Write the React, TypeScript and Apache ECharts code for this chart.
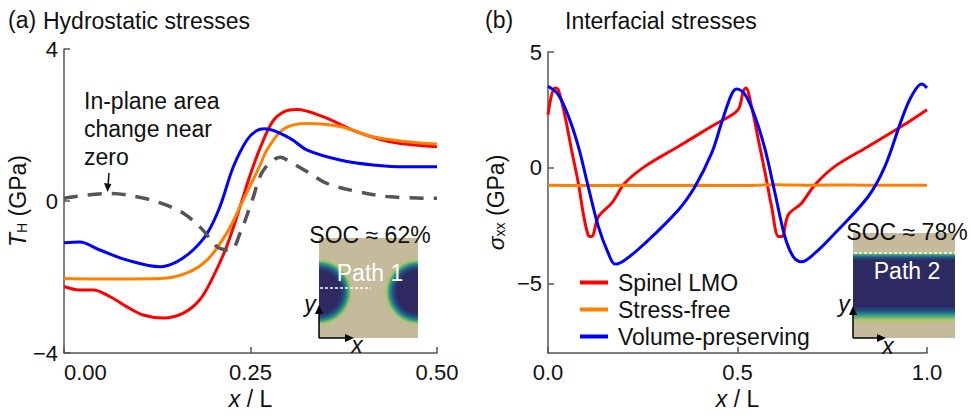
import React, { useEffect, useRef } from "react";
import * as echarts from "echarts";

// ---------- Data ----------
// Panel (a): hydrostatic stresses along Path 1, x / L in [0, 0.5]
const aSpinel: [number, number][] = [
  [0, -2.25], [0.021, -2.34], [0.039, -2.34], [0.062, -2.52], [0.084, -2.78],
  [0.106, -3.0], [0.133, -3.08], [0.16, -2.95], [0.182, -2.6], [0.2, -1.99],
  [0.218, -1.2], [0.236, -0.15], [0.249, 0.65], [0.263, 1.4], [0.28, 2.1],
  [0.296, 2.36], [0.312, 2.41], [0.347, 2.22], [0.393, 1.82], [0.437, 1.56], [0.5, 1.43],
];
const aStressFree: [number, number][] = [
  [0, -2.04], [0.039, -2.05], [0.084, -2.05], [0.129, -2.04], [0.165, -1.89],
  [0.192, -1.55], [0.218, -0.85], [0.236, -0.15], [0.249, 0.38], [0.263, 0.95],
  [0.272, 1.34], [0.294, 1.89], [0.326, 2.04], [0.37, 1.96], [0.414, 1.69],
  [0.46, 1.56], [0.5, 1.5],
];
const aVolume: [number, number][] = [
  [0, -1.1], [0.021, -1.08], [0.048, -1.29], [0.084, -1.55], [0.129, -1.73],
  [0.151, -1.6], [0.173, -1.29], [0.192, -0.85], [0.209, -0.15], [0.227, 0.9],
  [0.245, 1.6], [0.258, 1.85], [0.269, 1.9], [0.303, 1.65], [0.326, 1.34],
  [0.37, 1.08], [0.414, 0.95], [0.46, 0.9], [0.5, 0.9],
];
const aInPlane: [number, number][] = [
  [0, 0.07], [0.062, 0.2], [0.106, 0.08], [0.129, -0.05], [0.16, -0.32],
  [0.186, -0.76], [0.205, -1.2], [0.223, -1.3], [0.236, -0.85], [0.252, 0.0],
  [0.267, 0.8], [0.29, 1.15], [0.303, 1.03], [0.326, 0.77], [0.353, 0.46],
  [0.393, 0.25], [0.437, 0.11], [0.5, 0.07],
];

// Panel (b): interfacial stresses along Path 2, x / L in [0, 1]
const bSpinel: [number, number][] = [
  [0, 2.29], [0.018, 3.45], [0.027, 3.38], [0.045, 2.22], [0.062, 0.78],
  [0.08, -0.66], [0.093, -1.96], [0.106, -2.9], [0.115, -2.97], [0.133, -2.11],
  [0.168, -1.53], [0.203, -0.66], [0.256, 0.06], [0.344, 0.92], [0.432, 1.79],
  [0.493, 2.37], [0.505, 2.6], [0.515, 3.3], [0.522, 3.45], [0.537, 2.65],
  [0.555, 1.21], [0.573, -0.23], [0.59, -1.68], [0.608, -2.97], [0.617, -2.97],
  [0.634, -2.03], [0.669, -1.53], [0.704, -0.74], [0.757, 0.06], [0.845, 0.92],
  [0.933, 1.79], [1.0, 2.51],
];
const bStressFree: [number, number][] = [
  [0, -0.76], [0.1, -0.77], [0.2, -0.76], [0.3, -0.77], [0.4, -0.76],
  [0.5, -0.77], [0.6, -0.73], [0.7, -0.75], [0.8, -0.74], [0.9, -0.76], [1.0, -0.76],
];
const bVolume: [number, number][] = [
  [0, 3.52], [0.027, 3.16], [0.054, 2.22], [0.08, 0.92], [0.106, -0.81],
  [0.133, -2.54], [0.159, -3.69], [0.177, -4.16], [0.203, -3.98], [0.256, -3.26],
  [0.344, -1.82], [0.388, -0.81], [0.432, 0.64], [0.458, 1.94], [0.484, 3.16],
  [0.498, 3.4], [0.52, 3.16], [0.546, 2.22], [0.573, 0.78], [0.599, -1.1],
  [0.625, -2.97], [0.647, -3.84], [0.669, -4.06], [0.704, -3.69], [0.757, -2.83],
  [0.845, -1.24], [0.889, 0.06], [0.933, 2.08], [0.959, 3.09], [0.986, 3.62], [1.0, 3.45],
];

const seriesNames = ["Spinel LMO", "Stress-free", "Volume-preserving"];
const seriesColors = ["#ff0000", "#ff8000", "#0000ff"];
const aTicksY = [-4, 0, 4];
const bTicksY = [-5, 0, 5];

const FONT = "Liberation Sans, Arial, Helvetica, sans-serif";

const minusFmt = (v: number) => (v < 0 ? "\u2212" + Math.abs(v) : String(v));

export default function App() {
  const ref = useRef<HTMLDivElement>(null);
  useEffect(() => {
    if (!ref.current) return;
    const chart = echarts.init(ref.current, null, { renderer: "svg" });

    const axisLineX = { onZero: false, lineStyle: { color: "#555", width: 1.5 } };
    const axisLineY = { show: true, onZero: false, lineStyle: { color: "#555", width: 1.5 } };
    const axisTick = { show: true, inside: true, length: 6, lineStyle: { color: "#555", width: 1.5 } };
    const labelStyle = { color: "#111", fontSize: 22, fontFamily: FONT };

    const richName = {
      i: { fontStyle: "italic", fontSize: 23, fontFamily: FONT, color: "#111" },
      n: { fontSize: 23, fontFamily: FONT, color: "#111" },
      s: { fontSize: 14, fontFamily: FONT, color: "#111", padding: [9, 0, 0, 0] },
    };

    const line = (name: string, data: [number, number][], color: string, idx: number) => ({
      type: "line",
      name,
      data,
      xAxisIndex: idx,
      yAxisIndex: idx,
      showSymbol: false,
      smooth: 0.35,
      lineStyle: { color, width: 3 },
      itemStyle: { color },
    });

    const white = "#ffffff";
    const txt = (text: string, x: number, y: number, opts: any = {}) => ({
      type: "text",
      x,
      y,
      z: 100,
      style: {
        text,
        fill: opts.fill || "#111",
        fontSize: opts.fontSize || 23,
        fontFamily: FONT,
        fontStyle: opts.italic ? "italic" : "normal",
        align: opts.align || "left",
        textAlign: opts.align || "left",
        verticalAlign: "middle",
        textVerticalAlign: "middle",
      },
    });
    const arrowHeadUp = (x: number, y: number) => ({
      type: "polygon", z: 100,
      shape: { points: [[x, y], [x - 4, y + 9], [x + 4, y + 9]] },
      style: { fill: "#000" },
    });
    const arrowHeadRight = (x: number, y: number) => ({
      type: "polygon", z: 100,
      shape: { points: [[x, y], [x - 9, y - 4], [x - 9, y + 4]] },
      style: { fill: "#000" },
    });
    const seg = (x1: number, y1: number, x2: number, y2: number, stroke = "#000", width = 1.5, dash?: number[]) => ({
      type: "line", z: 100,
      shape: { x1, y1, x2, y2 },
      style: { stroke, lineWidth: width, lineDash: dash },
    });

    const beige = "#c5ba9c";
    const navy = "#2d2a62";
    const radialStops = [
      { offset: 0, color: navy },
      { offset: 0.62, color: navy },
      { offset: 0.74, color: "#244f86" },
      { offset: 0.84, color: "#2a9a80" },
      { offset: 0.93, color: "#a6c86e" },
      { offset: 1, color: beige },
    ];

    const graphic: any[] = [
      // titles
      txt("(a)", 8, 20),
      txt("Hydrostatic stresses", 43, 21),
      txt("(b)", 485, 20),
      txt("Interfacial stresses", 565, 21),
      // annotation (a)
      txt("In-plane area", 84, 101),
      txt("change near", 84, 129),
      txt("zero", 84, 157),
      seg(109, 173, 108, 186, "#111", 1.5),
      { type: "polygon", z: 100, shape: { points: [[107.5, 192], [104, 183], [111.5, 184]] }, style: { fill: "#111" } },

      // inset (a)
      { type: "rect", z: 90, shape: { x: 319, y: 238, width: 99, height: 100 }, style: { fill: beige } },
      {
        type: "sector", z: 91,
        shape: { cx: 319, cy: 292, r: 34, startAngle: -Math.PI / 2, endAngle: Math.PI / 2, clockwise: true },
        style: { fill: { type: "radial", x: 319, y: 292, r: 34, global: true, colorStops: radialStops } },
      },
      {
        type: "sector", z: 91,
        shape: { cx: 418, cy: 292, r: 34, startAngle: Math.PI / 2, endAngle: (3 * Math.PI) / 2, clockwise: true },
        style: { fill: { type: "radial", x: 418, y: 292, r: 34, global: true, colorStops: radialStops } },
      },
      seg(320, 288, 371, 288, white, 1.5, [3, 2]),
      txt("Path 1", 370, 273, { fill: white, align: "center" }),
      txt("SOC \u2248 62%", 370, 235, { align: "center" }),
      seg(319, 338, 319, 312),
      arrowHeadUp(319, 305),
      seg(319, 338, 346, 338),
      arrowHeadRight(354, 338),
      txt("y", 310, 304, { italic: true, align: "center" }),
      txt("x", 357, 345, { italic: true, align: "center" }),

      // inset (b)
      {
        type: "rect", z: 90,
        shape: { x: 853, y: 233, width: 102, height: 105 },
        style: {
          fill: {
            type: "linear", x: 0, y: 0, x2: 0, y2: 1,
            colorStops: [
              { offset: 0, color: beige },
              { offset: 0.17, color: beige },
              { offset: 0.19, color: "#b5c77a" },
              { offset: 0.21, color: "#2f9a80" },
              { offset: 0.235, color: "#234e86" },
              { offset: 0.26, color: navy },
              { offset: 0.7, color: navy },
              { offset: 0.74, color: "#234e86" },
              { offset: 0.78, color: "#2a9a80" },
              { offset: 0.83, color: "#b7c66e" },
              { offset: 0.87, color: beige },
              { offset: 1, color: beige },
            ],
          },
        },
      },
      seg(854, 253, 955, 253, white, 1.5, [3, 2]),
      txt("Path 2", 907, 271, { fill: white, align: "center" }),
      txt("SOC \u2248 78%", 907, 232, { align: "center" }),
      seg(853, 338, 853, 314),
      arrowHeadUp(853, 306),
      seg(853, 338, 878, 338),
      arrowHeadRight(886, 338),
      txt("y", 844, 304, { italic: true, align: "center" }),
      txt("x", 888, 346, { italic: true, align: "center" }),
    ];

    const option: any = {
      animation: false,
      backgroundColor: "#ffffff",
      textStyle: { fontFamily: FONT },
      grid: [
        { left: 64, top: 49, width: 373, height: 304, outerBoundsMode: "none", containLabel: false },
        { left: 548, top: 52, width: 379, height: 301, outerBoundsMode: "none", containLabel: false },
      ],
      xAxis: [
        {
          type: "value", gridIndex: 0, min: 0, max: 0.5, interval: 0.25,
          splitLine: { show: false }, axisLine: axisLineX, axisTick,
          axisLabel: { ...labelStyle, margin: 8, formatter: (v: number) => v.toFixed(2), alignMinLabel: "left" },
          name: "{i|x}{n| / L}", nameLocation: "middle", nameGap: 32,
          nameTextStyle: { rich: richName },
        },
        {
          type: "value", gridIndex: 1, min: 0, max: 1, interval: 0.5,
          splitLine: { show: false }, axisLine: axisLineX, axisTick,
          axisLabel: { ...labelStyle, margin: 8, formatter: (v: number) => v.toFixed(1) },
          name: "{i|x}{n| / L}", nameLocation: "middle", nameGap: 32,
          nameTextStyle: { rich: richName },
        },
      ],
      yAxis: [
        {
          type: "value", gridIndex: 0, min: -4, max: 4, interval: 4,
          splitLine: { show: false }, axisLine: axisLineY, axisTick,
          axisLabel: { ...labelStyle, margin: 6, formatter: minusFmt, customValues: aTicksY },
          name: "{i|T}{s|H}{n| (GPa)}", nameLocation: "middle", nameGap: 35,
          nameTextStyle: { rich: richName },
        },
        {
          type: "value", gridIndex: 1, min: -8, max: 5,
          splitLine: { show: false }, axisLine: axisLineY,
          axisTick: { ...axisTick, customValues: bTicksY },
          axisLabel: { ...labelStyle, margin: 6, formatter: minusFmt, customValues: bTicksY },
          name: "{i|\u03c3}{s|xx}{n| (GPa)}", nameLocation: "middle", nameGap: 41,
          nameTextStyle: { rich: richName },
        },
      ],
      legend: {
        show: true,
        data: seriesNames,
        orient: "vertical",
        left: 575,
        top: 266,
        icon: "rect",
        itemWidth: 28,
        itemHeight: 4,
        itemGap: 4,
        textStyle: { fontSize: 23, fontFamily: FONT, color: "#111", lineHeight: 22, padding: [0, 0, 0, 5] },
      },
      graphic,
      series: [
        line(seriesNames[0], aSpinel, seriesColors[0], 0),
        line(seriesNames[1], aStressFree, seriesColors[1], 0),
        line(seriesNames[2], aVolume, seriesColors[2], 0),
        {
          type: "line", name: "In-plane area change near zero", data: aInPlane,
          xAxisIndex: 0, yAxisIndex: 0, showSymbol: false, smooth: 0.35,
          lineStyle: { color: "#555555", width: 3.5, type: [14, 10] },
          itemStyle: { color: "#555555" },
        },
        line(seriesNames[0], bSpinel, seriesColors[0], 1),
        line(seriesNames[1], bStressFree, seriesColors[1], 1),
        line(seriesNames[2], bVolume, seriesColors[2], 1),
      ],
    };
    chart.setOption(option);
    return () => chart.dispose();
  }, []);

  return (
    <div
      ref={ref}
      style={{ position: "fixed", left: 0, top: 0, width: 971, height: 416, background: "#fff" }}
    />
  );
}
